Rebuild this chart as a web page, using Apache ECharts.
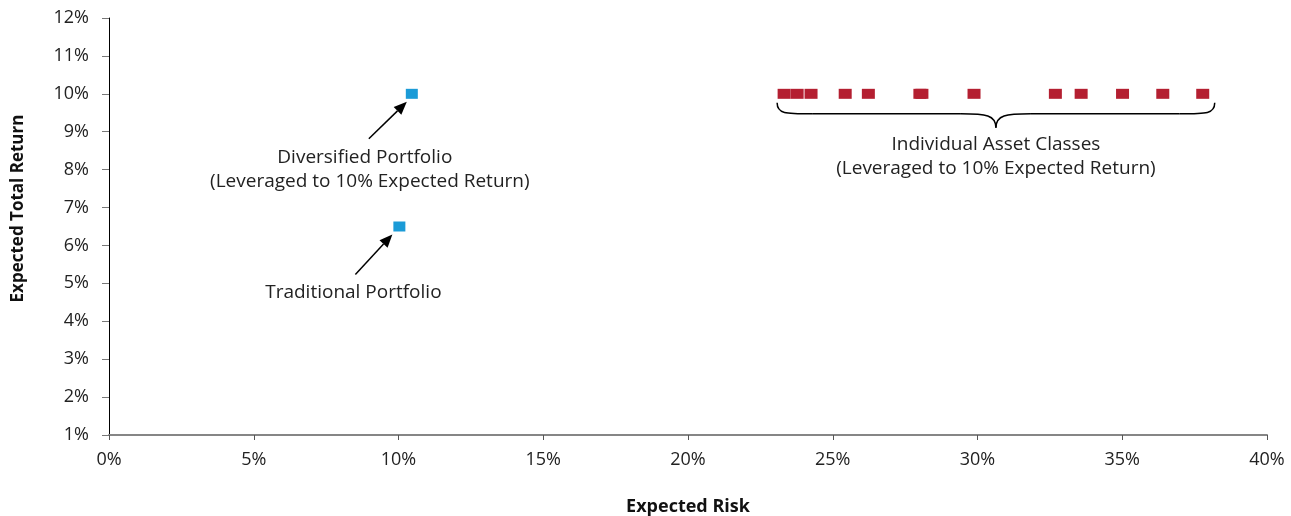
<!DOCTYPE html>
<html><head><meta charset="utf-8">
<script src="https://cdn.jsdelivr.net/npm/echarts@6/dist/echarts.min.js"></script>
<style>html,body{margin:0;padding:0;background:#fff}#c{width:1291px;height:516px}</style>
</head><body><div id="c"></div>
<script>
// Data (percent units)
const assetRisk = [23.32, 23.77, 24.25, 25.43, 26.23, 28.01, 28.08, 29.88, 32.69, 33.58, 35.01, 36.40, 37.78];
const assetReturn = [10, 10, 10, 10, 10, 10, 10, 10, 10, 10, 10, 10, 10];
const portfolioNames = ['Diversified Portfolio', 'Traditional Portfolio'];
const portfolioRisk = [10.46, 10.03];
const portfolioReturn = [10.0, 6.5];
const xTicks = [0, 5, 10, 15, 20, 25, 30, 35, 40];
const yTicks = [1, 2, 3, 4, 5, 6, 7, 8, 9, 10, 11, 12];

(function () {
const FONT = 'Open Sans';
const chart = echarts.init(document.getElementById('c'), null, {renderer: 'canvas'});
const option = {
  animation: false,
  backgroundColor: '#fff',
  grid: {left: 109, right: 24, top: 18, bottom: 81, containLabel: false, outerBoundsMode: 'none'},
  xAxis: {
    type: 'value', min: xTicks[0], max: xTicks[xTicks.length - 1], interval: 5,
    name: 'Expected Risk', nameLocation: 'middle', nameGap: 63,
    nameTextStyle: {fontFamily: FONT, fontWeight: 'bold', fontSize: 18, color: '#111'},
    axisLine: {lineStyle: {color: '#868686', width: 2}},
    axisTick: {show: true, length: 5, lineStyle: {color: '#555', width: 1}},
    axisLabel: {formatter: '{value}%', fontFamily: FONT, fontSize: 18, color: '#222', margin: 16},
    splitLine: {show: false}
  },
  yAxis: {
    type: 'value', min: yTicks[0], max: yTicks[yTicks.length - 1], interval: 1,
    axisLine: {show: true, lineStyle: {color: '#000', width: 1}},
    axisTick: {show: true, length: 7, lineStyle: {color: '#777', width: 1}},
    axisLabel: {formatter: '{value}%', fontFamily: FONT, fontSize: 18, color: '#222', margin: 20},
    splitLine: {show: false}
  },
  series: [
    {
      name: 'Individual Asset Classes', type: 'scatter', symbol: 'rect', symbolSize: [13, 10],
      itemStyle: {color: '#B41F31', opacity: 1},
      data: assetRisk.map((r, i) => [r, assetReturn[i]])
    },
    {
      name: 'Portfolios', type: 'scatter', symbol: 'rect', symbolSize: [12, 10],
      itemStyle: {color: '#1B9BD7', opacity: 1},
      data: portfolioRisk.map((r, i) => ({name: portfolioNames[i], value: [r, portfolioReturn[i]]}))
    }
  ]
};
chart.setOption(option);

function px(x, y) { return chart.convertToPixel({gridIndex: 0}, [x, y]); }
function arrow(tail, head) {
  const dx = head[0] - tail[0], dy = head[1] - tail[1];
  const len = Math.hypot(dx, dy), ux = dx / len, uy = dy / len;
  const hl = 13, hw = 5.5;
  const bx = head[0] - ux * hl, by = head[1] - uy * hl;
  return [
    {type: 'line', shape: {x1: tail[0], y1: tail[1], x2: bx, y2: by}, style: {stroke: '#000', lineWidth: 1.5}},
    {type: 'polygon', shape: {points: [head, [bx - uy * hw, by + ux * hw], [bx + uy * hw, by - ux * hw]]}, style: {fill: '#000'}}
  ];
}
function text(x, y, s) {
  return {type: 'text', x: x, y: y, style: {text: s, fontFamily: FONT, fontSize: 19, fill: '#222', align: 'center', verticalAlign: 'middle'}};
}
function bez(p1, c1, c2, p2) {
  return {type: 'bezierCurve', shape: {x1: p1[0], y1: p1[1], cpx1: c1[0], cpy1: c1[1], cpx2: c2[0], cpy2: c2[1], x2: p2[0], y2: p2[1]},
    style: {stroke: '#000', lineWidth: 1.5, fill: null}};
}
function seg(p1, p2) {
  return {type: 'line', shape: {x1: p1[0], y1: p1[1], x2: p2[0], y2: p2[1]}, style: {stroke: '#000', lineWidth: 1.5}};
}
const g = [];
// Y-axis title (placed as in the reference, slightly above the plot centre)
const yTop = px(0, yTicks[yTicks.length - 1]), yBot = px(0, yTicks[0]);
g.push({type: 'text', x: 18, y: (yTop[1] + yBot[1]) / 2 - 18, rotation: Math.PI / 2,
  style: {text: 'Expected Total Return', fontFamily: FONT, fontWeight: 'bold', fontSize: 17, fill: '#111', align: 'center', verticalAlign: 'middle'}});
const d = px(portfolioRisk[0], portfolioReturn[0]);
g.push(...arrow([d[0] - 43, d[1] + 45], [d[0] - 5, d[1] + 8]));
g.push(text(d[0] - 47, d[1] + 64, 'Diversified Portfolio'));
g.push(text(d[0] - 42, d[1] + 88, '(Leveraged to 10% Expected Return)'));
const t = px(portfolioRisk[1], portfolioReturn[1]);
g.push(...arrow([t[0] - 44, t[1] + 48], [t[0] - 7, t[1] + 8]));
g.push(text(t[0] - 46, t[1] + 66, 'Traditional Portfolio'));
const a0 = px(assetRisk[0], 10), a1 = px(assetRisk[assetRisk.length - 1], 10);
const bl = a0[0] - 7, br = a1[0] + 12, bt = a0[1] + 9, bm = bt + 11, tip = bt + 25;
const cx = (bl + br) / 2;
g.push(bez([bl, bt], [bl, bm], [bl + 8, bm], [bl + 35, bm]));
g.push(seg([bl + 35, bm], [cx - 35, bm]));
g.push(bez([cx - 35, bm], [cx - 10, bm], [cx, bm + 1], [cx, tip]));
g.push(bez([cx, tip], [cx, bm + 1], [cx + 10, bm], [cx + 35, bm]));
g.push(seg([cx + 35, bm], [br - 35, bm]));
g.push(bez([br - 35, bm], [br - 8, bm], [br, bm], [br, bt]));
g.push(text(cx, tip + 17, 'Individual Asset Classes'));
g.push(text(cx, tip + 41, '(Leveraged to 10% Expected Return)'));
chart.setOption({graphic: g});
})();
</script></body></html>
